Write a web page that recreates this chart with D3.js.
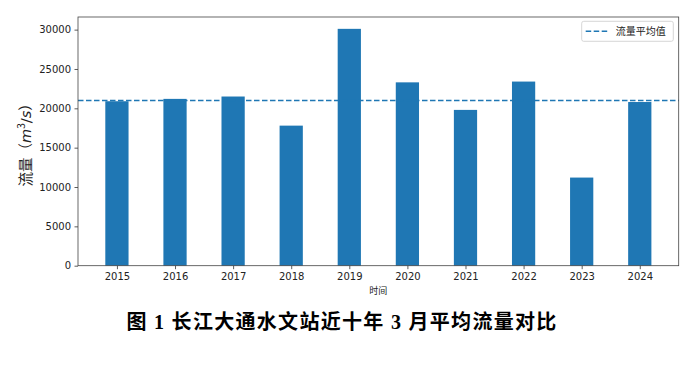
<!DOCTYPE html>
<html>
<head>
<meta charset="utf-8">
<script src="https://cdn.jsdelivr.net/npm/d3@7"></script>
<style>
  body { margin: 0; background: #fff; }
  svg { display: block; }
  .tick text { font-family: "DejaVu Sans", sans-serif; font-size: 10px; fill: #222; }
</style>
</head>
<body>
<div id="chart"></div>
<script>
// data
var years = ["2015","2016","2017","2018","2019","2020","2021","2022","2023","2024"];
var flows = [20900, 21200, 21500, 17800, 30100, 23300, 19800, 23400, 11200, 20800];
var yTicks = [0, 5000, 10000, 15000, 20000, 25000, 30000];
var legendLabel = "流量平均值";
var caption = "图 1  长江大通水文站近十年 3 月平均流量对比";

var width = 696, height = 371;
var margin = {top: 17, right: 17.3, bottom: 105.3, left: 78};
var plotW = width - margin.left - margin.right;
var plotH = height - margin.top - margin.bottom;
var barColor = "#1f77b4";

var svg = d3.select("#chart").append("svg")
  .attr("width", width).attr("height", height);

var g = svg.append("g").attr("transform", "translate(" + margin.left + "," + margin.top + ")");

// matplotlib-like: bar width 0.4, 5% margins
var barW = 0.4;
var lo = -barW / 2, hi = years.length - 1 + barW / 2;
var pad = (hi - lo) * 0.05;
var xScale = d3.scaleLinear().domain([lo - pad, hi + pad]).range([0, plotW]);
var yScale = d3.scaleLinear().domain([0, d3.max(flows) * 1.05]).range([plotH, 0]);

var meanFlow = d3.mean(flows);

// bars
g.selectAll(".bar")
  .data(flows)
  .enter().append("rect")
  .attr("class", "bar")
  .attr("x", function(d, i) { return xScale(i - barW / 2); })
  .attr("width", function(d, i) { return xScale(barW) - xScale(0); })
  .attr("y", function(d) { return yScale(d); })
  .attr("height", function(d) { return plotH - yScale(d); })
  .style("fill", barColor);

// mean line across the whole axes
g.append("line")
  .attr("x1", 0).attr("x2", plotW)
  .attr("y1", yScale(meanFlow)).attr("y2", yScale(meanFlow))
  .style("stroke", barColor)
  .style("stroke-width", 1.5)
  .style("stroke-dasharray", "5.5,2.5");

// axes
var xAxis = d3.axisBottom(xScale)
  .tickValues(d3.range(years.length))
  .tickFormat(function(i) { return years[i]; })
  .tickSize(3.5).tickPadding(3.5);
var yAxis = d3.axisLeft(yScale)
  .tickValues(yTicks)
  .tickFormat(d3.format("d"))
  .tickSize(3.5).tickPadding(3.5);

var gx = g.append("g").attr("class", "x axis")
  .attr("transform", "translate(0," + plotH + ")")
  .call(xAxis);
var gy = g.append("g").attr("class", "y axis").call(yAxis);

[gx, gy].forEach(function(ax) {
  ax.select(".domain").remove();
  ax.selectAll(".tick line").style("stroke", "#333").style("stroke-width", 0.8);
});

// frame
g.append("rect")
  .attr("x", 0).attr("y", 0)
  .attr("width", plotW).attr("height", plotH)
  .style("fill", "none")
  .style("stroke", "#444")
  .style("stroke-width", 0.8);

// axis titles
svg.append("text")
  .attr("x", margin.left + plotW / 2)
  .attr("y", 294)
  .attr("text-anchor", "middle")
  .style("font-family", "'Noto Sans CJK SC', sans-serif")
  .style("font-size", "9px")
  .style("fill", "#222")
  .text("时间");

var yLab = svg.append("text")
  .attr("transform", "translate(31," + (margin.top + plotH / 2) + ") rotate(-90)")
  .attr("text-anchor", "middle")
  .style("font-family", "'Noto Sans CJK SC', sans-serif")
  .style("font-size", "14.5px")
  .style("fill", "#222");
yLab.append("tspan").text("流量（");
yLab.append("tspan").style("font-style", "italic").style("font-family", "'DejaVu Sans', sans-serif").text("m");
yLab.append("tspan").attr("dy", -6).style("font-size", "10px").text("3");
yLab.append("tspan").attr("dy", 6).style("font-family", "'DejaVu Sans', sans-serif").text("/");
yLab.append("tspan").style("font-style", "italic").style("font-family", "'DejaVu Sans', sans-serif").text("s");
yLab.append("tspan").text("）");

// legend
var leg = g.append("g").attr("transform", "translate(" + (plotW - 97) + ",4.3)");
leg.append("rect")
  .attr("width", 91.6).attr("height", 20).attr("rx", 2)
  .style("fill", "#fff").style("fill-opacity", 0.8)
  .style("stroke", "#ccc").style("stroke-width", 0.8);
leg.append("line")
  .attr("x1", 4).attr("x2", 26).attr("y1", 10).attr("y2", 10)
  .style("stroke", barColor).style("stroke-width", 1.5)
  .style("stroke-dasharray", "5.5,2.5");
leg.append("text")
  .attr("x", 34).attr("y", 14)
  .style("font-family", "'Noto Sans CJK SC', sans-serif")
  .style("font-size", "10px")
  .style("fill", "#222")
  .text(legendLabel);

// figure caption
svg.append("text")
  .attr("x", 342)
  .attr("y", 329)
  .attr("text-anchor", "middle")
  .style("font-family", "'Liberation Serif', 'Noto Sans CJK SC', serif")
  .style("font-weight", "bold")
  .style("font-size", "20px")
  .style("letter-spacing", "1.3px")
  .style("fill", "#000")
  .text(caption);
</script>
</body>
</html>
